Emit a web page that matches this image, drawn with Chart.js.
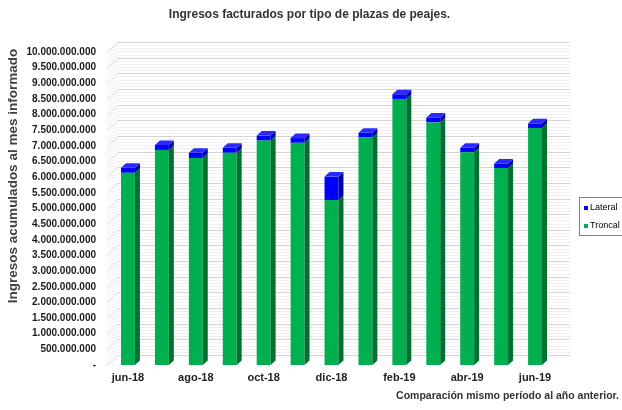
<!DOCTYPE html>
<html>
<head>
<meta charset="utf-8">
<script src="https://cdn.jsdelivr.net/npm/chart.js@4.4.1/dist/chart.umd.min.js"></script>
<style>
  body { margin: 0; background: #fff; }
</style>
</head>
<body>
<canvas id="chart" width="622" height="410"></canvas>
<script>
// data (pesos)
const months = ['jun-18', 'jul-18', 'ago-18', 'sep-18', 'oct-18', 'nov-18', 'dic-18',
                'ene-19', 'feb-19', 'mar-19', 'abr-19', 'may-19', 'jun-19'];
const troncal = [6.14e9, 6.87e9, 6.61e9, 6.78e9, 7.17e9, 7.10e9, 5.27e9,
                 7.27e9, 8.50e9, 7.75e9, 6.80e9, 6.29e9, 7.57e9];
const lateral = [0.16e9, 0.16e9, 0.17e9, 0.16e9, 0.16e9, 0.15e9, 0.75e9,
                 0.15e9, 0.15e9, 0.16e9, 0.14e9, 0.15e9, 0.15e9];
const yMax = 10000000000;
const yStep = 500000000;

const FONT = '"Liberation Sans", Arial, sans-serif';
const GREEN = '#00b050', GREEN_SIDE = '#00712f';
const BLUE = '#0000ff', BLUE_SIDE = '#0000a8', BLUE_TOP = '#2a2aff';

function fmt(v) {
  if (v === 0) return '-';
  return String(v).replace(/\B(?=(\d{3})+(?!\d))/g, '.');
}

// back wall, left wall and bar depth faces
const threeD = {
  id: 'threeD',
  beforeDatasetsDraw(chart) {
    const { ctx, chartArea: a, scales: { y } } = chart;
    const backL = a.left + 7, backR = a.right + 18, frontL = a.left - 4, off = 10;
    ctx.save();
    ctx.lineWidth = 1;
    for (let v = 0; v <= yMax; v += yStep / 5) {
      const yy = Math.round(y.getPixelForValue(v)) + 0.5;
      const major = v % yStep === 0;
      ctx.strokeStyle = major ? '#d4d4d4' : '#f0f0f0';
      ctx.beginPath();
      ctx.moveTo(backL, yy - off);
      ctx.lineTo(backR, yy - off);
      ctx.stroke();
      ctx.strokeStyle = major ? '#d8d8d8' : '#eeeeee';
      ctx.beginPath();
      ctx.moveTo(frontL, yy);
      ctx.lineTo(backL, yy - off);
      ctx.stroke();
    }
    ctx.restore();
  },
  afterDatasetsDraw(chart) {
    const { ctx } = chart;
    const dx = 5, dy = 4.5;
    ctx.save();
    chart.data.datasets.forEach((ds, i) => {
      const meta = chart.getDatasetMeta(i);
      meta.data.forEach(el => {
        const { x, y, base, width } = el.getProps(['x', 'y', 'base', 'width'], true);
        const r = x + width / 2, l = x - width / 2;
        ctx.fillStyle = i === 0 ? GREEN_SIDE : BLUE_SIDE;
        ctx.beginPath();
        ctx.moveTo(r, y);
        ctx.lineTo(r + dx, y - dy);
        ctx.lineTo(r + dx, base - dy);
        ctx.lineTo(r, base);
        ctx.closePath();
        ctx.fill();
        if (i === 1) {
          ctx.fillStyle = BLUE_TOP;
          ctx.beginPath();
          ctx.moveTo(l, y);
          ctx.lineTo(l + dx, y - dy);
          ctx.lineTo(r + dx, y - dy);
          ctx.lineTo(r, y);
          ctx.closePath();
          ctx.fill();
        }
      });
    });
    ctx.restore();
  },
  afterDraw(chart) {
    const { ctx } = chart;
    ctx.save();
    // axis title
    ctx.translate(13, 176);
    ctx.rotate(-Math.PI / 2);
    ctx.font = 'bold 13.5px ' + FONT;
    ctx.fillStyle = '#404040';
    ctx.textAlign = 'center';
    ctx.textBaseline = 'middle';
    ctx.fillText('Ingresos acumulados al mes informado', 0, 0);
    ctx.restore();

    // legend box
    ctx.save();
    ctx.strokeStyle = '#808080';
    ctx.lineWidth = 1;
    ctx.strokeRect(579.5, 197.5, 60, 38);
    ctx.font = '9px ' + FONT;
    ctx.textBaseline = 'middle';
    const items = [['Lateral', BLUE, 208], ['Troncal', GREEN, 226]];
    items.forEach(([txt, col, yy]) => {
      ctx.fillStyle = col;
      ctx.fillRect(584, yy - 2, 4, 4);
      ctx.fillStyle = '#000';
      ctx.fillText(txt, 590, yy);
    });
    ctx.restore();
  }
};

const ctx = document.getElementById('chart').getContext('2d');

new Chart(ctx, {
  type: 'bar',
  data: {
    labels: months,
    datasets: [
      { label: 'Troncal', data: troncal, backgroundColor: GREEN, borderWidth: 0 },
      { label: 'Lateral', data: lateral, backgroundColor: BLUE, borderWidth: 0 }
    ]
  },
  options: {
    responsive: false,
    animation: false,
    layout: { padding: { left: 0, right: 3, top: 0, bottom: 0 } },
    datasets: { bar: { categoryPercentage: 1, barPercentage: 0.41 } },
    plugins: {
      legend: { display: false },
      tooltip: { enabled: false },
      title: {
        display: true,
        text: 'Ingresos facturados por tipo de plazas de peajes.',
        color: '#333',
        font: { family: FONT, size: 12, weight: 'bold' },
        padding: { top: 7, bottom: 30.6 }
      },
      subtitle: {
        display: true,
        position: 'bottom',
        align: 'end',
        text: 'Comparación mismo período al año anterior.',
        color: '#333',
        font: { family: FONT, size: 10.5, weight: 'bold' },
        padding: { top: 4.5, bottom: 7.9 }
      }
    },
    scales: {
      x: {
        stacked: true,
        grid: { display: false, drawTicks: false },
        border: { display: false },
        ticks: {
          autoSkip: false,
          maxRotation: 0,
          padding: 6,
          color: '#222',
          font: { family: FONT, size: 11, weight: 'bold' },
          callback: (v, i) => (i % 2 === 0 ? months[i] : '')
        },
        afterFit: s => { s.height = 20; }
      },
      y: {
        stacked: true,
        min: 0,
        max: yMax,
        grid: { display: false, drawTicks: false },
        border: { display: false },
        ticks: {
          autoSkip: false,
          stepSize: yStep,
          padding: 15,
          color: '#1a1a1a',
          font: { family: FONT, size: 10, weight: 'bold' },
          callback: v => fmt(v)
        },
        afterFit: s => { s.width = 111; }
      },
      y2: {
        position: 'right',
        grid: { display: false, drawTicks: false },
        border: { display: false },
        ticks: { display: false },
        afterFit: s => { s.width = 67; }
      }
    }
  },
  plugins: [threeD]
});
</script>
</body>
</html>
